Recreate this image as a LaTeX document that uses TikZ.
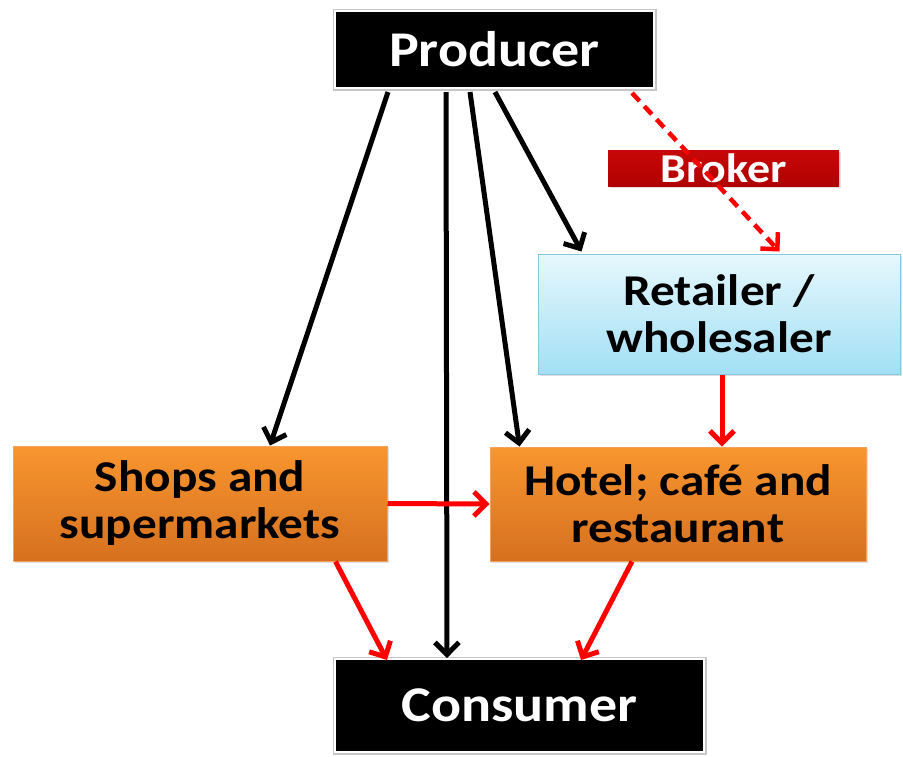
\documentclass[tikz,border=0pt]{standalone}
\usepackage{fontspec}
\newfontfamily\cajafont{Carlito}[FakeStretch=1.12]
\usetikzlibrary{arrows.meta, shadows}

\definecolor{naranjaA}{HTML}{F8962F}
\definecolor{naranjaB}{HTML}{D6701F}
\definecolor{bordeN}{HTML}{F3A35C}
\definecolor{azulA}{HTML}{E6F8FD}
\definecolor{azulB}{HTML}{A2DFF4}
\definecolor{bordeA}{HTML}{86C9DF}
\definecolor{rojoA}{HTML}{C80808}
\definecolor{rojoB}{HTML}{B00000}

\begin{document}
\begin{tikzpicture}[x=1pt, y=-1pt,
    negra/.style={fill=black, text=white, draw=white, line width=2pt,
      preaction={draw=gray!45, line width=5pt},
      font=\cajafont\bfseries\fontsize{50}{54}\selectfont},
    caja/.style={line width=1pt, align=center,
      drop shadow={opacity=0.25, shadow xshift=2pt, shadow yshift=-2pt},
      font=\cajafont\bfseries\fontsize{44}{47}\selectfont},
    naranja/.style={caja, draw=bordeN, top color=naranjaA, bottom color=naranjaB},
    azul/.style={caja, draw=bordeA, top color=azulA, bottom color=azulB},
    flecha/.style={line width=5pt, -{Straight Barb[length=12pt, width=24pt]}},
    roja/.style={flecha, red}]
  \useasboundingbox (0,0) rectangle (903,756);

  \node[negra, minimum width=319pt, minimum height=77pt] (prod) at (494.5,49.5) {Producer}; % productor
  \node[negra, minimum width=369pt, minimum height=93pt] (cons) at (519.5,705.5) {Consumer}; % consumidor
  \node[caja, draw=none, top color=rojoA, bottom color=rojoB, text=white,
        font=\cajafont\bfseries\fontsize{41}{44}\selectfont,
        minimum width=231pt, minimum height=36pt, inner sep=0pt] (brok) at (723.5,168) {Broker};
  \node[azul, minimum width=362pt, minimum height=120pt] (ret) at (719,314) {Retailer /\\wholesaler};
  \node[naranja, minimum width=374pt, minimum height=115pt] (shop) at (200,503.5) {Shops and\\supermarkets};
  \node[naranja, minimum width=376pt, minimum height=114pt] (hot) at (678,504) {Hotel; café and\\restaurant};

  % flechas negras desde el productor
  \draw[flecha] ([xshift=-106.5pt, yshift=-3pt]prod.south) -- ([xshift=70pt]shop.north);
  \draw[flecha] ([xshift=-48.5pt, yshift=-3pt]prod.south) -- ([xshift=-72.5pt]cons.north);
  \draw[flecha] ([xshift=-24.5pt, yshift=-3pt]prod.south) -- ([xshift=30pt]hot.north west);
  \draw[flecha] ([xshift=0.5pt, yshift=-3pt]prod.south) -- ([xshift=44pt, yshift=2pt]ret.north west);

  % flechas rojas
  \draw[roja, line width=4.5pt, dash pattern=on 11pt off 7pt] ([xshift=137.5pt, yshift=-4pt]prod.south) -- ([xshift=242pt, yshift=2pt]ret.north west);
  \draw[roja] ([xshift=3pt]ret.south) -- ([xshift=44pt]hot.north);
  \draw[roja] (shop.east) -- (hot.west);
  \draw[roja] ([xshift=-52pt]shop.south east) -- ([xshift=53pt, yshift=-2pt]cons.north west);
  \draw[roja] ([xshift=-46pt]hot.south) -- ([xshift=247pt, yshift=-2pt]cons.north west);
\end{tikzpicture}
\end{document}
